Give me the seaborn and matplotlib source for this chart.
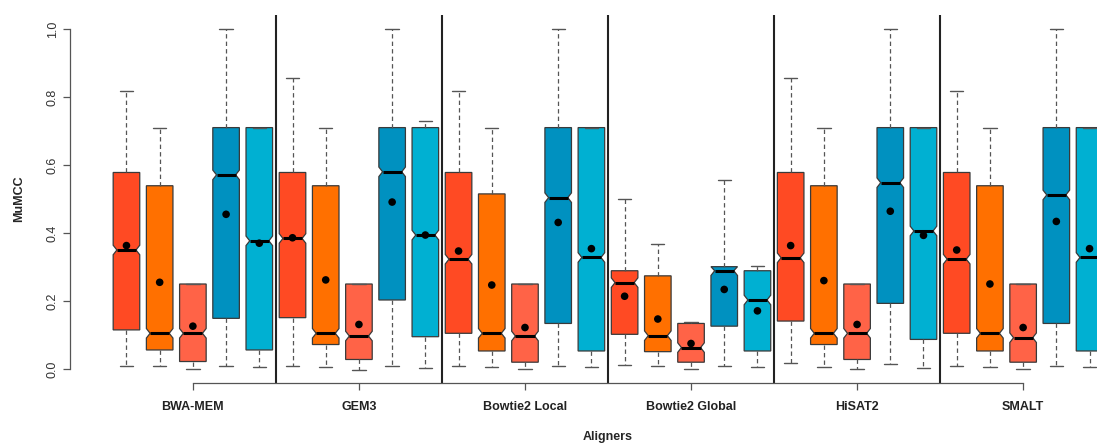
import numpy as np
import pandas as pd
import matplotlib
matplotlib.use("Agg")
import matplotlib.pyplot as plt
from matplotlib.path import Path
import seaborn as sns

# ---------------- data ----------------
aligners = ["BWA-MEM", "GEM3", "Bowtie2 Local", "Bowtie2 Global", "HiSAT2", "SMALT"]
box_colors = ["#FF4A23", "#FF7000", "#FF6347", "#0091C0", "#00B0D2"]

whishi = [
    [0.818, 0.710, 0.250, 1.000, 0.710],
    [0.855, 0.710, 0.250, 1.000, 0.730],
    [0.818, 0.710, 0.250, 1.000, 0.710],
    [0.500, 0.367, 0.137, 0.556, 0.303],
    [0.855, 0.710, 0.250, 1.000, 0.710],
    [0.818, 0.710, 0.250, 1.000, 0.710],
]
q3 = [
    [0.578, 0.539, 0.250, 0.710, 0.710],
    [0.578, 0.539, 0.250, 0.710, 0.710],
    [0.578, 0.515, 0.250, 0.710, 0.710],
    [0.289, 0.274, 0.134, 0.301, 0.289],
    [0.578, 0.539, 0.250, 0.710, 0.710],
    [0.578, 0.539, 0.250, 0.710, 0.710],
]
med = [
    [0.350, 0.105, 0.105, 0.571, 0.377],
    [0.384, 0.105, 0.097, 0.580, 0.394],
    [0.323, 0.105, 0.097, 0.504, 0.328],
    [0.254, 0.098, 0.063, 0.289, 0.203],
    [0.327, 0.105, 0.105, 0.548, 0.406],
    [0.323, 0.105, 0.092, 0.512, 0.328],
]
q1 = [
    [0.115, 0.056, 0.022, 0.149, 0.056],
    [0.151, 0.072, 0.028, 0.203, 0.095],
    [0.105, 0.053, 0.020, 0.134, 0.053],
    [0.102, 0.051, 0.020, 0.126, 0.053],
    [0.141, 0.072, 0.028, 0.193, 0.087],
    [0.105, 0.053, 0.020, 0.134, 0.053],
]
whislo = [
    [0.010, 0.010, 0.000, 0.010, 0.005],
    [0.010, 0.007, -0.002, 0.010, 0.002],
    [0.010, 0.007, 0.000, 0.010, 0.005],
    [0.012, 0.010, 0.000, 0.010, 0.007],
    [0.017, 0.007, 0.000, 0.015, 0.003],
    [0.010, 0.007, 0.000, 0.010, 0.007],
]
means = [
    [0.363, 0.255, 0.126, 0.455, 0.370],
    [0.386, 0.262, 0.131, 0.491, 0.394],
    [0.347, 0.247, 0.122, 0.431, 0.354],
    [0.214, 0.147, 0.075, 0.234, 0.171],
    [0.363, 0.260, 0.131, 0.464, 0.393],
    [0.350, 0.250, 0.122, 0.434, 0.354],
]
yticks = [0.0, 0.2, 0.4, 0.6, 0.8, 1.0]

# ---------------- style ----------------
sns.set_style("white")
plt.rcParams["font.family"] = ["Liberation Sans", "DejaVu Sans"]

NOTCH_HALF = 0.014
BOX_W = 0.8
NOTCH_FRAC = 0.36
n_grp = len(aligners)
n_box = len(box_colors)

fig = plt.figure(figsize=(10.97, 4.44), dpi=100)
W, H = 1097.0, 444.0
left_px, right_px, top_px, bot_px = 70.0, 1146.0, 15.4, 382.6
ax = fig.add_axes([left_px / W, 1 - bot_px / H, (right_px - left_px) / W, (bot_px - top_px) / H])

stats, positions, colors, mean_rows = [], [], [], []
for g in range(n_grp):
    for j in range(n_box):
        pos = g * n_box + j + 1
        m = med[g][j]
        stats.append(dict(
            med=m, q1=q1[g][j], q3=q3[g][j],
            whislo=whislo[g][j], whishi=whishi[g][j],
            cilo=max(m - NOTCH_HALF, q1[g][j]), cihi=min(m + NOTCH_HALF, q3[g][j]),
            mean=means[g][j], fliers=[],
        ))
        positions.append(pos)
        colors.append(box_colors[j])
        mean_rows.append(dict(pos=pos, mean=means[g][j]))

res = ax.bxp(
    stats, positions=positions, widths=BOX_W, shownotches=True, patch_artist=True,
    showfliers=False, showmeans=False, capwidths=BOX_W / 2,
    boxprops=dict(edgecolor="#3a3a3a", linewidth=0.9),
    whiskerprops=dict(color="#555555", linewidth=0.9, linestyle=(0, (3.5, 2.5))),
    capprops=dict(color="#555555", linewidth=1.0),
    medianprops=dict(color="black", linewidth=2.2, solid_capstyle="butt"),
    manage_ticks=False,
)

# R-style shallow notches
for patch, line, pos, st, c in zip(res["boxes"], res["medians"], positions, stats, colors):
    patch.set_facecolor(c)
    verts = patch.get_path().vertices.copy()
    for k in range(len(verts)):
        if abs(verts[k, 1] - st["med"]) < 1e-9:
            verts[k, 0] = pos + np.sign(verts[k, 0] - pos) * BOX_W * NOTCH_FRAC
    patch.set_path(Path(verts, closed=True))
    line.set_xdata([pos - BOX_W * NOTCH_FRAC, pos + BOX_W * NOTCH_FRAC])

mean_df = pd.DataFrame(mean_rows)
sns.scatterplot(data=mean_df, x="pos", y="mean", color="black", s=30,
                edgecolor="none", ax=ax, zorder=6, legend=False)

# group separators
for g in range(1, n_grp):
    ax.axvline(g * n_box + 0.5, color="#222222", linewidth=1.5, zorder=1)

ax.set_xlim(-0.7, 31.7)
ax.set_ylim(-0.04, 1.04)

centers = [g * n_box + 3 for g in range(n_grp)]
ax.set_xticks(centers)
ax.set_xticklabels(aligners, fontweight="bold", fontsize=9, color="#222222")
ax.set_yticks(yticks)
ax.set_yticklabels([f"{v:.1f}" for v in yticks], rotation=90, va="center",
                   fontsize=9, color="#333333")
ax.tick_params(axis="x", bottom=True, direction="out", length=5, width=0.9,
               color="#555555", pad=8)
ax.tick_params(axis="y", left=True, direction="out", length=5, width=0.9,
               color="#555555", pad=3)

for s in ["top", "right"]:
    ax.spines[s].set_visible(False)
ax.spines["left"].set_bounds(0, 1)
ax.spines["bottom"].set_bounds(centers[0], centers[-1])
for s in ["left", "bottom"]:
    ax.spines[s].set_visible(True)
    ax.spines[s].set_color("#555555")
    ax.spines[s].set_linewidth(0.9)

ax.set_xlabel("Aligners", fontweight="bold", fontsize=9)
ax.set_ylabel("MuMCC", fontweight="bold", fontsize=9)
ax.xaxis.set_label_coords(0.5, (bot_px - 431.0) / (bot_px - top_px))
ax.yaxis.set_label_coords((25.0 - left_px) / (right_px - left_px), 0.5)
ax.grid(False)

fig.savefig("out.png", dpi=100)
